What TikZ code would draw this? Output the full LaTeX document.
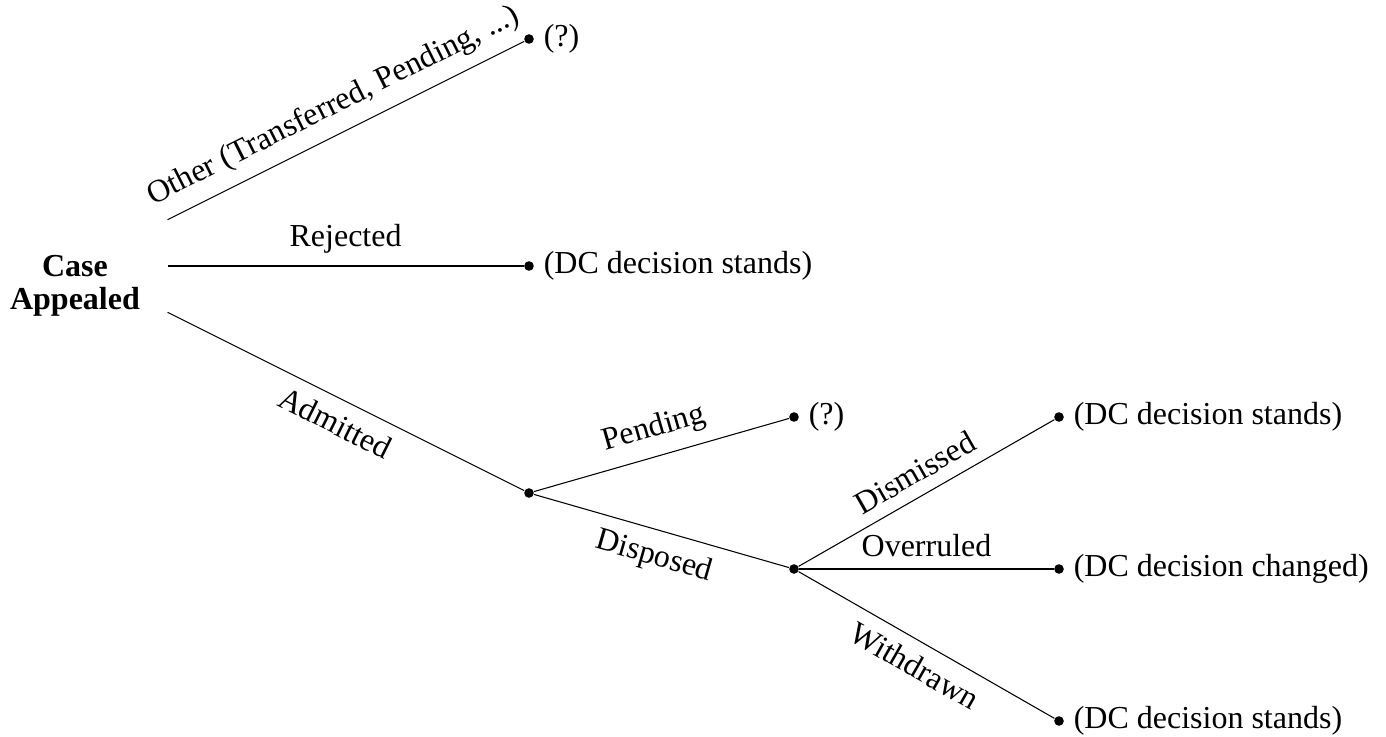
\documentclass[tikz,border=0pt]{standalone}
\usepackage{fontspec}
\setmainfont{Liberation Serif}
\usetikzlibrary{positioning}

\begin{document}
\begin{tikzpicture}[x=0.375pt, y=-0.375pt,
          font=\fontsize{12}{12.5}\selectfont,
     dot/.style = {circle, fill, inner sep=0pt, minimum size=3.6pt},
    root/.style = {inner sep=0pt, minimum width=69pt, minimum height=37.5pt},
  branch/.style = {midway, sloped, inner sep=4.5pt}
      ]
    \useasboundingbox (0,0) rectangle (1386,736);
    % root
    \node (case) [root, label={[yshift=-7.5pt, align=center,
                  font=\fontsize{12}{12.5}\selectfont\bfseries]center:Case\\Appealed}] at (75,266) {};
    % first level
    \node (oth) [dot] at (529,39)  {};
    \node (rej) [dot] at (529,266) {};
    \node (adm) [dot] at (529,493) {};
    % second level
    \node (pnd) [dot] at (794,417) {};
    \node (dsp) [dot] at (794,569) {};
    % third level
    \node (dis) [dot] at (1059,417) {};
    \node (ovr) [dot] at (1059,569) {};
    \node (wdr) [dot] at (1059,721) {};
    % outcomes
    \node (oth-out) [right=0pt of oth] {(?)};
    \node (rej-out) [right=0pt of rej] {(DC decision stands)};
    \node (pnd-out) [right=0pt of pnd] {(?)};
    \node (dis-out) [right=0pt of dis] {(DC decision stands)};
    \node (ovr-out) [right=0pt of ovr] {(DC decision changed)};
    \node (wdr-out) [right=0pt of wdr] {(DC decision stands)};
    % branches
    \draw (case) -- node[branch, above] {Other (Transferred, Pending, ...)} (oth);
    \draw (case) -- node[branch, above] {Rejected} (rej);
    \draw (case) -- node[branch, below] {Admitted} (adm);
    \draw (adm) -- node[branch, above] {Pending} (pnd);
    \draw (adm) -- node[branch, below] {Disposed} (dsp);
    \draw (dsp) -- node[branch, above] {Dismissed} (dis);
    \draw (dsp) -- node[branch, above] {Overruled} (ovr);
    \draw (dsp) -- node[branch, below] {Withdrawn} (wdr);
\end{tikzpicture}
\end{document}
